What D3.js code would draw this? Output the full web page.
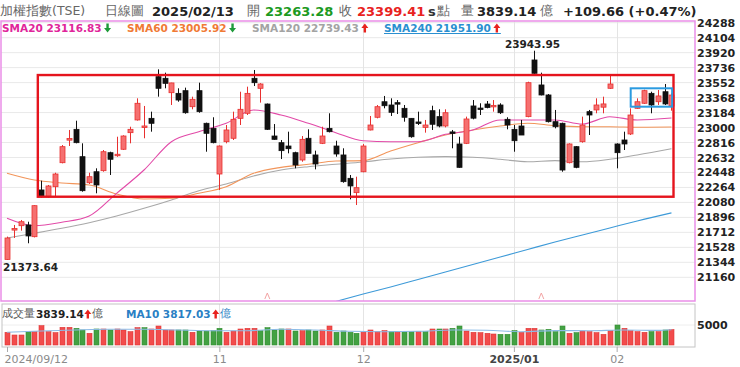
<!DOCTYPE html>
<html><head><meta charset="utf-8">
<script src="https://cdn.jsdelivr.net/npm/d3@7/dist/d3.min.js"></script>
<style>
html,body{margin:0;padding:0;background:#fff;overflow:hidden;}
svg{display:block;}
text{font-family:"DejaVu Sans",Verdana,sans-serif;}
</style></head><body>
<svg id="c" width="740" height="367"></svg>
<script>
// ---------- data ----------
const openP  = [21380,21740,21794,21803,21659,22233,22150,22273,22568,22845,22978,22642,22322,22457,22470,22691,22655,22733,22937,23093,23005,23113,23625,23605,23428,23420,23453,23256,23453,23052,22990,22429,22826,22868,23113,23175,23605,23482,23289,22896,22814,22773,22691,22601,22868,22663,22806,22990,22773,22663,22376,22200,22457,22970,23126,23317,23277,23305,23236,23113,23068,23002,23207,23134,23019,22945,22798,22806,23265,23236,23289,23256,23277,23101,22978,23019,23134,23830,23523,23400,23072,23052,22568,22765,22826,23195,23216,23250,23482,22798,22847,22921,23236,23298,23420,23317,23440,23263.28];
const highP  = [21660,21803,21864,21843,22045,22347,22294,22445,22785,22970,23084,22806,22445,22499,22724,22703,22887,22905,23010,23359,23265,23195,23715,23674,23550,23482,23490,23379,23551,23060,23126,22780,23031,23195,23440,23502,23707,23545,23295,23043,22847,22949,22703,22896,22978,22716,23010,23175,22838,22745,22417,22396,22797,23142,23277,23388,23359,23338,23277,23113,23195,23093,23268,23224,23224,22970,22887,23134,23338,23298,23326,23338,23298,23126,23031,23093,23563,23943.95,23674,23412,23216,23060,22806,22773,23134,23216,23359,23379,23645,22806,22949,23236,23359,23465,23440,23461,23535,23420];
const lowP   = [21373.64,21643,21733,21578,21650,22140,22140,22150,22560,22773,22806,22212,22306,22192,22457,22417,22640,22725,22806,23085,22868,22949,23379,23482,23277,23317,23170,23224,23182,22703,22806,22233,22806,22847,23031,23154,23510,23306,22970,22850,22613,22683,22499,22580,22683,22486,22797,22940,22642,22322,22118,22048,22450,22965,23113,23236,23142,23166,23072,22875,23031,22937,22970,23002,23002,22745,22505,22797,23101,23154,23236,23195,23166,22978,22703,22908,23126,23660,23395,23062,22990,22457,22560,22500,22814,22908,23175,23175,23475,22499,22724,22908,23230,23290,23175,23277,23277,23207];
const closeP = [21643,21760,21843,21668,22040,22150,22282,22429,22765,22865,22814,22224,22396,22294,22703,22610,22670,22896,22978,23298,23015,23052,23482,23543,23548,23338,23182,23347,23195,22929,22814,22773,22970,23101,23224,23420,23551,23535,22978,22855,22716,22740,22540,22855,22683,22552,22896,22949,22675,22335,22282,22261,22773,23031,23256,23268,23187,23288,23126,22887,23050,23031,23040,23019,23182,22929,22511,23105,23115,23224,23246,23270,23182,23031,22838,22908,23551,23666,23400,23072,23010,22478,22798,22511,23031,23154,23277,23290,23535,22691,22798,23154,23317,23453,23277,23388,23289.75,23399.41];
const volume = [3170,2500,2500,3330,3330,4830,3330,3080,4420,4420,4170,3750,2920,4000,4000,3750,4000,3750,3330,4330,4330,4000,4750,3750,3750,3750,3750,3170,3500,3500,3580,4170,3170,3500,4000,4170,4170,3580,4330,3750,4000,4000,3500,3580,3750,3500,3750,4750,3170,3500,3170,2920,3170,3750,3330,3580,3330,3330,3330,3330,3330,3330,4000,4000,4000,4170,4750,3500,3170,3080,2920,2750,2670,2670,3580,3170,4170,4170,3750,3920,3330,4750,2920,3080,3500,3330,3080,2670,3580,5000,4170,3580,3330,3170,3330,3330,3750,3839.14];
const prevClose0 = 21420;

const maIdx  = [0,4,8,12,16,20,24,28,32,36,40,44,48,52,56,60,64,68,72,76,80,84,88,92,97];
const sma20  = [21885,21794,21836,21913,22192,22478,22826,22949,23052,23215,23154,23052,22937,22838,22826,22826,22917,22970,23093,23093,23093,23043,23133,23093,23116.83];
const sma60  = [22438,22355,22319,22294,22183,22122,22131,22192,22273,22438,22511,22548,22589,22593,22712,22814,22908,22970,23019,23052,23023,23010,23010,23003,23005.92];
const sma120 = [21643,21701,21762,21831,21913,22008,22110,22224,22306,22405,22478,22519,22548,22577,22613,22634,22642,22634,22610,22580,22593,22580,22610,22663,22739.43];
const sma240Idx = [48,52,56,60,64,68,72,76,80,84,88,92,97];
const sma240 = [20863,20955,21041,21133,21225,21317,21409,21502,21594,21680,21766,21852,21951.90];
const volMaIdx = [0,5,10,15,20,25,30,35,40,45,50,55,60,65,70,75,80,85,90,95,97];
const volMa10  = [3170,3500,3750,3920,3920,3750,3580,3580,3920,3750,3420,3330,3420,3750,3700,3330,3600,3580,3750,3650,3817.03];

const yTicks = [24288,24104,23920,23736,23552,23368,23184,23000,22816,22632,22448,22264,22080,21896,21712,21528,21344,21160];
const xTickIdx = [0,31,52,74,89];
const xTickLabels = ["2024/09/12","11","12","2025/01","02"];
const markIdx = [38,78];
const redBox = [4.5, 97.3, 23645, 22150];
const blueBox = [91.05, 97.1, 23482, 23256];

// ---------- layout ----------
const svg = d3.select("#c");
const P = {l:1, t:21, r:695, b:301};
const V = {l:2, t:304, r:695, b:347};
const x = d3.scaleLinear().domain([0,97]).range([7,671.45]);
const y = d3.scaleLinear().domain([21160,24288]).range([277.3,22.7]);
const yv = d3.scaleLinear().domain([0,5000]).range([345,325]);
const n = closeP.length;
const idx = d3.range(n);

svg.append("defs").append("clipPath").attr("id","cp")
  .append("rect").attr("x",P.l).attr("y",P.t).attr("width",P.r-P.l).attr("height",P.b-P.t);

// grid
const grid = svg.append("g");
grid.selectAll(".hg").data(yTicks).join("line")
  .attr("x1",P.l).attr("x2",P.r).attr("y1",d=>y(d)).attr("y2",d=>y(d))
  .attr("stroke","#e9e9e9").attr("stroke-width",1);
grid.selectAll(".vg").data(xTickIdx.slice(1)).join("line")
  .attr("x1",d=>Math.round(x(d))+0.5).attr("x2",d=>Math.round(x(d))+0.5)
  .attr("y1",P.t).attr("y2",P.b).attr("stroke","#e4e4e4");
grid.selectAll(".vg2").data(xTickIdx.slice(1)).join("line")
  .attr("x1",d=>Math.round(x(d))+0.5).attr("x2",d=>Math.round(x(d))+0.5)
  .attr("y1",V.t).attr("y2",V.b).attr("stroke","#e4e4e4");
grid.append("line").attr("x1",V.l).attr("x2",V.r).attr("y1",yv(5000)).attr("y2",yv(5000)).attr("stroke","#eeeeee");

// MA lines
const lineG = svg.append("g").attr("clip-path","url(#cp)");
const mk = (ix, vals, col) => {
  const pts = ix.map((d,i)=>[x(d), y(vals[i])]);
  lineG.append("path").attr("d", d3.line().curve(d3.curveMonotoneX)(pts))
    .attr("fill","none").attr("stroke",col).attr("stroke-width",1.1);
};
mk(maIdx, sma120, "#a8a8a8");
mk(sma240Idx, sma240, "#3d9ad8");
mk(maIdx, sma60, "#f2955a");
mk(maIdx, sma20, "#e24aa8");

// candles
const RED="#e8302f", REDF="#f57070", BLK="#111";
const cg = svg.append("g");
idx.forEach(i=>{
  const up = closeP[i] >= openP[i];
  const cx = Math.round(x(i))+0.5;
  const col = up?RED:BLK;
  cg.append("line").attr("x1",cx).attr("x2",cx).attr("y1",y(highP[i])).attr("y2",y(lowP[i]))
    .attr("stroke",col).attr("stroke-width",1);
  let y0 = y(Math.max(openP[i],closeP[i])), y1 = y(Math.min(openP[i],closeP[i]));
  if (y1-y0 < 1.5) { const m=(y0+y1)/2; y0=m-0.75; y1=m+0.75; }
  cg.append("rect").attr("x",cx-2.5).attr("y",y0).attr("width",5).attr("height",y1-y0)
    .attr("fill",up?REDF:BLK).attr("stroke",col).attr("stroke-width",0.8);
});

// small markers
svg.selectAll(".mkr").data(markIdx).join("path")
  .attr("d",d=>{const cx=x(d);return `M${cx-2.5},${P.b-2} L${cx},${P.b-8} L${cx+2.5},${P.b-2}`;})
  .attr("fill","none").attr("stroke","#f3a3a3").attr("stroke-width",1);

// annotation boxes
svg.append("rect").attr("x",x(redBox[0])).attr("y",y(redBox[2]))
  .attr("width",x(redBox[1])-x(redBox[0])).attr("height",y(redBox[3])-y(redBox[2]))
  .attr("fill","none").attr("stroke","#e5141d").attr("stroke-width",2.4);
svg.append("rect").attr("x",x(blueBox[0])).attr("y",y(blueBox[2]))
  .attr("width",x(blueBox[1])-x(blueBox[0])).attr("height",y(blueBox[3])-y(blueBox[2]))
  .attr("fill","none").attr("stroke","#2b9be0").attr("stroke-width",2);

// extreme labels
const hiI = d3.maxIndex(highP), loI = d3.minIndex(lowP);
svg.append("text").attr("x",x(hiI)-2).attr("y",y(highP[hiI])-3).attr("text-anchor","middle")
  .attr("font-size",10.5).attr("font-weight","bold").attr("fill","#222").text(d3.format(".2f")(highP[hiI]));
svg.append("text").attr("x",3).attr("y",y(lowP[loI])+11).attr("text-anchor","start")
  .attr("font-size",10.5).attr("font-weight","bold").attr("fill","#222").text(d3.format(".2f")(lowP[loI]));

// main panel border
svg.append("rect").attr("x",P.l).attr("y",P.t).attr("width",P.r-P.l).attr("height",P.b-P.t)
  .attr("fill","none").attr("stroke","#ea8ee8").attr("stroke-width",1.5);

// y axis
const ya = svg.append("g").attr("transform",`translate(${P.r+1},0)`)
  .call(d3.axisRight(y).tickValues(yTicks).tickSize(0).tickPadding(1).tickFormat(d3.format("d")));
ya.select(".domain").remove();
ya.selectAll("text").attr("font-family","DejaVu Sans").attr("font-size",11).attr("font-weight","bold").attr("fill","#222");

// volume panel
const vg = svg.append("g");
idx.forEach(i=>{
  const prev = i===0?prevClose0:closeP[i-1];
  const up = closeP[i] >= prev;
  const cx = Math.round(x(i))+0.5;
  vg.append("rect").attr("x",cx-2.5).attr("y",yv(volume[i])).attr("width",5).attr("height",yv(0)-yv(volume[i]))
    .attr("fill",up?"#f24c4c":"#43a143").attr("stroke",up?"#dd3535":"#318c31").attr("stroke-width",0.6);
});
vg.append("path").attr("d", d3.line().curve(d3.curveMonotoneX)(volMaIdx.map((d,i)=>[x(d),yv(volMa10[i])])))
  .attr("fill","none").attr("stroke","#8cbbe6").attr("stroke-width",1.1);
svg.append("rect").attr("x",V.l).attr("y",V.t).attr("width",V.r-V.l).attr("height",V.b-V.t)
  .attr("fill","none").attr("stroke","#c4c4c4").attr("stroke-width",1);
svg.append("text").attr("x",P.r+2).attr("y",yv(5000)).attr("dominant-baseline","central")
  .attr("font-size",11).attr("font-weight","bold").attr("fill","#222").text("5000");

// x axis
const xa = svg.append("g").attr("transform",`translate(0,${V.b})`)
  .call(d3.axisBottom(x).tickValues(xTickIdx).tickSize(5).tickPadding(3).tickFormat((d,i)=>xTickLabels[i]));
xa.select(".domain").remove();
xa.selectAll("line").attr("stroke","#aaa");
xa.selectAll("text").attr("font-family","DejaVu Sans").attr("font-size",11).attr("fill","#8a8a8a")
  .attr("font-weight",(d,i)=>i===3?"bold":"normal").attr("fill",(d,i)=>i===3?"#444":"#8a8a8a");
xa.selectAll("text").filter((d,i)=>i===0).attr("text-anchor","start").attr("x",-3);

// ---------- header ----------
const hdr = svg.append("g");
const cjk = '"Noto Sans CJK TC","Noto Sans CJK SC",sans-serif';
const T = (xx,yy,s,opt={}) => hdr.append("text").attr("x",xx).attr("y",yy).text(s)
  .attr("font-family",opt.cjk?cjk:'"DejaVu Sans",sans-serif')
  .attr("font-size",opt.fs||13).attr("font-weight",opt.b?"bold":"normal").attr("fill",opt.c||"#222");
T(0,15,"加權指數(TSE)",{cjk:1,fs:12.5,c:"#666"});
T(105,15,"日線圖",{cjk:1,fs:12.5,c:"#666"});
T(152,16,"2025/02/13",{b:1});
T(247,15,"開",{cjk:1,fs:12.5,c:"#666"});
T(265,16,"23263.28",{b:1,c:"#1c9a22"});
T(339,15,"收",{cjk:1,fs:12.5,c:"#666"});
T(357,16,"23399.41",{b:1,c:"#e8221e"});
T(428,16,"s",{b:1,c:"#333"});
T(437,15,"點",{cjk:1,fs:12.5,c:"#666"});
T(461,15,"量",{cjk:1,fs:12.5,c:"#666"});
T(477,16,"3839.14",{b:1});
T(540,15,"億",{cjk:1,fs:12.5,c:"#666"});
T(563,16,"+109.66 (+0.47%)",{b:1});

// arrows
const arrow = (g,cx,ytop,up,col) => {
  const d = up
    ? `M${cx},${ytop} L${cx+3.5},${ytop+4.5} L${cx+1.2},${ytop+4.5} L${cx+1.2},${ytop+9} L${cx-1.2},${ytop+9} L${cx-1.2},${ytop+4.5} L${cx-3.5},${ytop+4.5} Z`
    : `M${cx},${ytop+9} L${cx+3.5},${ytop+4.5} L${cx+1.2},${ytop+4.5} L${cx+1.2},${ytop} L${cx-1.2},${ytop} L${cx-1.2},${ytop+4.5} L${cx-3.5},${ytop+4.5} Z`;
  g.append("path").attr("d",d).attr("fill",col);
};
const legend = [
  {x:2, t:"SMA20 23116.83", c:"#e0259a", up:false},
  {x:127, t:"SMA60 23005.92", c:"#f07a35", up:false},
  {x:252, t:"SMA120 22739.43", c:"#a3a3a3", up:true},
  {x:384, t:"SMA240 21951.90", c:"#2a8fd0", up:true, ul:true}
];
const lg = svg.append("g");
legend.forEach(l=>{
  const t = lg.append("text").attr("x",l.x).attr("y",31.5).attr("font-size",10.5).attr("font-weight","bold")
    .attr("fill",l.c).text(l.t);
  const w = t.node().getComputedTextLength();
  arrow(lg, l.x+w+6, 23.5, l.up, l.up?"#e8221e":"#1f9a3a");
  if (l.ul) lg.append("line").attr("x1",l.x).attr("x2",l.x+w+10).attr("y1",33.5).attr("y2",33.5).attr("stroke",l.c).attr("stroke-width",1);
});

// volume legend
const vl = svg.append("g");
vl.append("text").attr("x",2).attr("y",317).attr("font-family",cjk).attr("font-size",11).attr("fill","#555").text("成交量");
const v1 = vl.append("text").attr("x",36).attr("y",317.5).attr("font-size",10.5).attr("font-weight","bold").attr("fill","#222").text("3839.14");
let w1 = v1.node().getComputedTextLength();
arrow(vl, 36+w1+4, 309.5, true, "#e8221e");
vl.append("text").attr("x",36+w1+8).attr("y",317).attr("font-family",cjk).attr("font-size",11).attr("fill","#555").text("億");
const v2 = vl.append("text").attr("x",126).attr("y",317.5).attr("font-size",10.5).attr("font-weight","bold").attr("fill","#2a7fc4").text("MA10 3817.03");
let w2 = v2.node().getComputedTextLength();
arrow(vl, 126+w2+5, 309.5, true, "#e8221e");
vl.append("text").attr("x",126+w2+9).attr("y",317).attr("font-family",cjk).attr("font-size",11).attr("fill","#2a7fc4").text("億");
</script>
</body></html>
